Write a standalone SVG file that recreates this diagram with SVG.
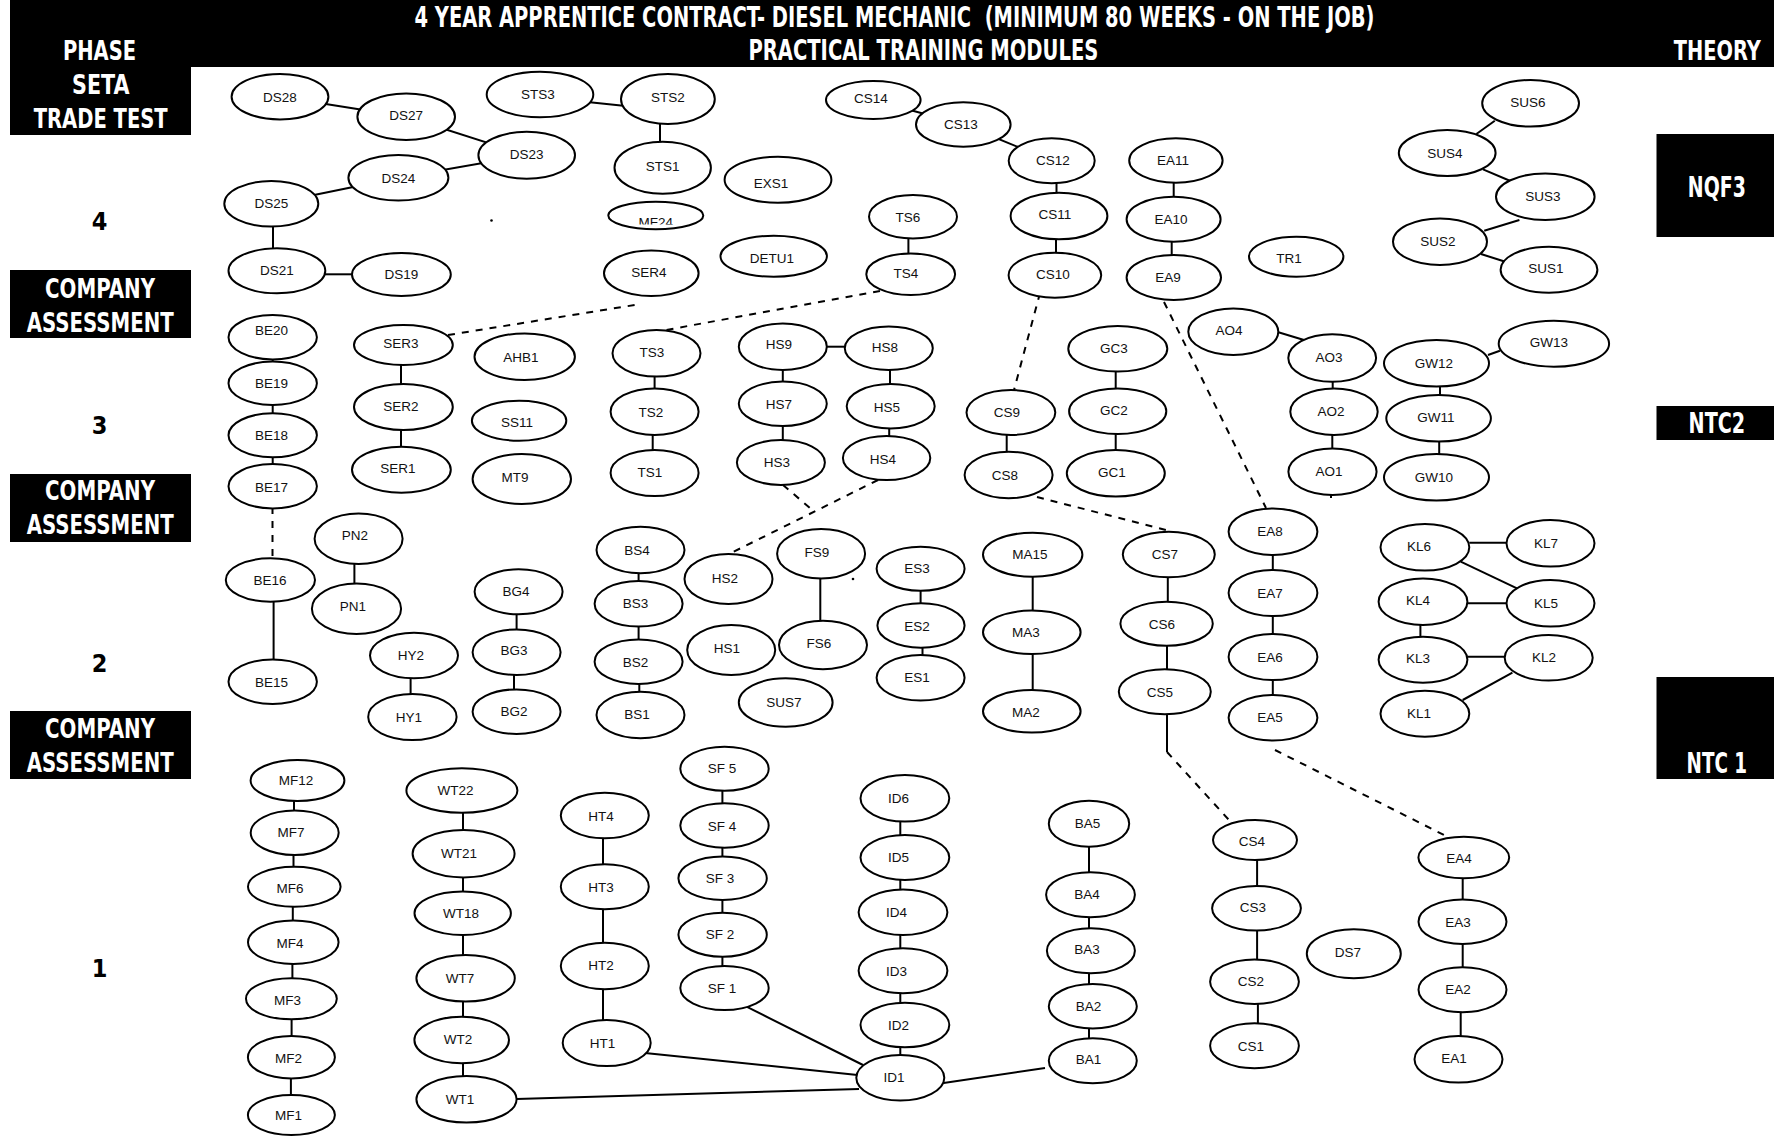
<svg xmlns="http://www.w3.org/2000/svg" width="1774" height="1140" viewBox="0 0 1774 1140">
<style>
.bg{fill:#fff}
.blk{fill:#000}
.hd{font-family:"Liberation Sans Narrow","Arial Narrow","DejaVu Sans Condensed",sans-serif;font-weight:bold;fill:#fff;font-size:26px}
.hdl{font-size:28px}
.hds{font-size:23px}
.num{font-family:"Liberation Sans Narrow","Arial Narrow","DejaVu Sans Condensed",sans-serif;font-weight:bold;fill:#000;font-size:25px;text-anchor:middle}
.node ellipse{fill:#fff;stroke:#000;stroke-width:2}
.node text{font-family:"Liberation Sans",Arial,sans-serif;font-size:13.5px;text-anchor:middle;fill:#111}
#connectors line{stroke:#000;stroke-width:2;fill:none}
#connectors .d{stroke-dasharray:7 7}
</style>
<defs>
<clipPath id="mfclip"><rect x="600" y="200" width="110" height="24.5"/></clipPath>
</defs>
<rect class="bg" x="0" y="0" width="1774" height="1140"/>
<g id="header">
<rect class="blk" x="10" y="0" width="1764" height="67"/>
<rect class="blk" x="10" y="0" width="181" height="135"/>
<rect class="blk" x="10" y="270" width="181" height="68"/>
<rect class="blk" x="10" y="474" width="181" height="68"/>
<rect class="blk" x="10" y="711" width="181" height="68"/>
<rect class="blk" x="1656.5" y="134" width="117.5" height="103"/>
<rect class="blk" x="1656.5" y="406" width="117.5" height="34"/>
<rect class="blk" x="1656.5" y="677" width="117.5" height="102"/>
<text class="hd hdl" x="414.5" y="27" textLength="960" lengthAdjust="spacingAndGlyphs" xml:space="preserve">4 YEAR APPRENTICE CONTRACT- DIESEL MECHANIC  (MINIMUM 80 WEEKS - ON THE JOB)</text>
<text class="hd hdl" x="748.4" y="60" textLength="350" lengthAdjust="spacingAndGlyphs">PRACTICAL TRAINING MODULES</text>
<text class="hd hds" transform="translate(1673.7,60) scale(1,1.13)" x="0" y="0" textLength="87" lengthAdjust="spacingAndGlyphs">THEORY</text>
<text class="hd" x="63" y="60" textLength="73" lengthAdjust="spacingAndGlyphs">PHASE</text>
<text class="hd" x="72" y="94" textLength="57.4" lengthAdjust="spacingAndGlyphs">SETA</text>
<text class="hd" x="33.7" y="127.7" textLength="134" lengthAdjust="spacingAndGlyphs">TRADE TEST</text>
<text class="hd" x="45" y="297.7" textLength="110" lengthAdjust="spacingAndGlyphs">COMPANY</text>
<text class="hd" x="26.8" y="331.7" textLength="147" lengthAdjust="spacingAndGlyphs">ASSESSMENT</text>
<text class="hd" x="45" y="500" textLength="110" lengthAdjust="spacingAndGlyphs">COMPANY</text>
<text class="hd" x="26.8" y="534" textLength="147" lengthAdjust="spacingAndGlyphs">ASSESSMENT</text>
<text class="hd" x="45" y="738" textLength="110" lengthAdjust="spacingAndGlyphs">COMPANY</text>
<text class="hd" x="26.8" y="772" textLength="147" lengthAdjust="spacingAndGlyphs">ASSESSMENT</text>
<text class="hd hdl" x="1687.8" y="196.7" textLength="58" lengthAdjust="spacingAndGlyphs">NQF3</text>
<text class="hd hdl" x="1688.6" y="433" textLength="56.6" lengthAdjust="spacingAndGlyphs">NTC2</text>
<text class="hd hdl" x="1686.6" y="773" textLength="60.4" lengthAdjust="spacingAndGlyphs" xml:space="preserve">NTC 1</text>
<text class="num" x="99.5" y="230">4</text>
<text class="num" x="99.5" y="434">3</text>
<text class="num" x="99.5" y="672">2</text>
<text class="num" x="99.5" y="977">1</text>
</g>
<g id="connectors">
<line x1="280" y1="96.7" x2="406.2" y2="116.7"/>
<line x1="406.2" y1="116.7" x2="526.7" y2="155.3"/>
<line x1="526.7" y1="155.3" x2="398.4" y2="177.8"/>
<line x1="398.4" y1="177.8" x2="271.3" y2="203.8"/>
<line x1="273" y1="226" x2="273" y2="248.5"/>
<line x1="325" y1="274.3" x2="352.5" y2="274.3"/>
<line x1="585" y1="101.7" x2="623.3" y2="105.7"/>
<line x1="585" y1="99.5" x2="590" y2="102.5"/>
<line x1="660" y1="123.5" x2="660" y2="142"/>
<line x1="908.4" y1="238" x2="908.4" y2="253.5"/>
<line x1="873.3" y1="100" x2="963.3" y2="124.5"/>
<line x1="963.3" y1="124.5" x2="1051.7" y2="160.8"/>
<line x1="1056.5" y1="183" x2="1056.5" y2="193"/>
<line x1="1056" y1="239" x2="1056" y2="253"/>
<line x1="1173.7" y1="182.7" x2="1173.7" y2="196.7"/>
<line x1="1171.7" y1="241.7" x2="1171.7" y2="255"/>
<line x1="1494.8" y1="120.7" x2="1476.4" y2="134"/>
<line x1="1483" y1="169.3" x2="1510.4" y2="181"/>
<line x1="1519.4" y1="220" x2="1484.2" y2="230.7"/>
<line x1="1481" y1="254" x2="1505.3" y2="261.7"/>
<line x1="272.7" y1="359" x2="272.7" y2="362"/>
<line x1="272.7" y1="404.5" x2="272.7" y2="413.5"/>
<line x1="272.7" y1="457" x2="272.7" y2="464.5"/>
<line x1="401" y1="365" x2="401" y2="384"/>
<line x1="401" y1="430" x2="401" y2="446.7"/>
<line x1="654.6" y1="376.7" x2="654.6" y2="388.3"/>
<line x1="652.7" y1="435" x2="652.7" y2="450"/>
<line x1="826.8" y1="346.7" x2="844.8" y2="346.7"/>
<line x1="782.8" y1="370" x2="782.8" y2="381.7"/>
<line x1="890" y1="370" x2="890" y2="384"/>
<line x1="782.8" y1="426" x2="782.8" y2="440"/>
<line x1="889.2" y1="428.3" x2="889.2" y2="436"/>
<line x1="1006.7" y1="435" x2="1006.7" y2="451.7"/>
<line x1="1115.7" y1="371.7" x2="1115.7" y2="388.3"/>
<line x1="1115.7" y1="434" x2="1115.7" y2="450"/>
<line x1="1276.7" y1="331.7" x2="1304" y2="340"/>
<line x1="1332.7" y1="381.7" x2="1332.7" y2="388.3"/>
<line x1="1332.3" y1="435" x2="1332.3" y2="448.3"/>
<line x1="1331" y1="495" x2="1331" y2="498"/>
<line x1="1488" y1="355" x2="1499.9" y2="350.7"/>
<line x1="1440" y1="386.7" x2="1440" y2="395"/>
<line x1="1439.2" y1="441.7" x2="1439.2" y2="454"/>
<line x1="273.6" y1="601.7" x2="273.6" y2="659.3"/>
<line x1="354.4" y1="564" x2="354.4" y2="583.3"/>
<line x1="410.6" y1="678.3" x2="410.6" y2="694"/>
<line x1="516.6" y1="614.3" x2="516.6" y2="629.3"/>
<line x1="514" y1="675" x2="514" y2="689.3"/>
<line x1="638.6" y1="573.3" x2="638.6" y2="581"/>
<line x1="638.6" y1="626.7" x2="638.6" y2="639.3"/>
<line x1="639.3" y1="684" x2="639.3" y2="691.7"/>
<line x1="820.3" y1="578.3" x2="820.3" y2="620.7"/>
<line x1="920.6" y1="590.7" x2="920.6" y2="603.3"/>
<line x1="922.5" y1="647.7" x2="922.5" y2="655"/>
<line x1="1032.7" y1="576.7" x2="1032.7" y2="610.7"/>
<line x1="1032.7" y1="654" x2="1032.7" y2="690"/>
<line x1="1167.8" y1="577.3" x2="1167.8" y2="601.7"/>
<line x1="1167" y1="645.7" x2="1167" y2="669.3"/>
<line x1="1272.8" y1="555" x2="1272.8" y2="570"/>
<line x1="1272.8" y1="616" x2="1272.8" y2="634"/>
<line x1="1272.8" y1="680" x2="1272.8" y2="695"/>
<line x1="1469.3" y1="542.7" x2="1506.5" y2="542.7"/>
<line x1="1460.7" y1="561.7" x2="1517" y2="588.3"/>
<line x1="1467.4" y1="603.3" x2="1506.5" y2="603.3"/>
<line x1="1420.4" y1="625" x2="1420.4" y2="636.7"/>
<line x1="1467.4" y1="656.7" x2="1504.6" y2="656.7"/>
<line x1="1512.4" y1="672.7" x2="1462.7" y2="700"/>
<line x1="294" y1="801" x2="294" y2="810.7"/>
<line x1="293.5" y1="855" x2="293.5" y2="866.7"/>
<line x1="292.8" y1="906.7" x2="292.8" y2="920.7"/>
<line x1="292.4" y1="964" x2="292.4" y2="978.3"/>
<line x1="291.6" y1="1019.3" x2="291.6" y2="1036"/>
<line x1="290.9" y1="1078.3" x2="290.9" y2="1095"/>
<line x1="463" y1="812.7" x2="463" y2="830"/>
<line x1="463" y1="877.3" x2="463" y2="891.7"/>
<line x1="463" y1="935" x2="463" y2="955"/>
<line x1="463" y1="1001.7" x2="463" y2="1016.7"/>
<line x1="463" y1="1063.3" x2="463" y2="1076"/>
<line x1="603" y1="838.3" x2="603" y2="864.3"/>
<line x1="603" y1="909.3" x2="603" y2="942.7"/>
<line x1="603" y1="989.3" x2="603" y2="1020"/>
<line x1="722.4" y1="790.7" x2="722.4" y2="803.3"/>
<line x1="722.4" y1="847.7" x2="722.4" y2="856.7"/>
<line x1="722.4" y1="900" x2="722.4" y2="912.7"/>
<line x1="722.4" y1="956.7" x2="722.4" y2="966"/>
<line x1="900.3" y1="821.7" x2="900.3" y2="835"/>
<line x1="900.3" y1="880" x2="900.3" y2="889.3"/>
<line x1="900.3" y1="935" x2="900.3" y2="948.3"/>
<line x1="900.3" y1="993.3" x2="900.3" y2="1002.7"/>
<line x1="900.3" y1="1047.3" x2="900.3" y2="1055"/>
<line x1="1089" y1="846.7" x2="1089" y2="872.3"/>
<line x1="1089" y1="917.3" x2="1089" y2="928.3"/>
<line x1="1089" y1="973.3" x2="1089" y2="984"/>
<line x1="1089" y1="1028.3" x2="1089" y2="1038.3"/>
<line x1="1257.1" y1="860" x2="1257.1" y2="886"/>
<line x1="1257.1" y1="930.7" x2="1257.1" y2="959.3"/>
<line x1="1257.9" y1="1004" x2="1257.9" y2="1023.3"/>
<line x1="1462.7" y1="876" x2="1462.7" y2="899.3"/>
<line x1="1462.7" y1="944" x2="1462.7" y2="967.3"/>
<line x1="1460.7" y1="1012.3" x2="1460.7" y2="1036"/>
<line x1="516.6" y1="1099" x2="859" y2="1089"/>
<line x1="645" y1="1053" x2="857.5" y2="1075"/>
<line x1="746.5" y1="1006.7" x2="863" y2="1065"/>
<line x1="943.6" y1="1083" x2="1045" y2="1068"/>
<line x1="1167" y1="714" x2="1167" y2="752"/>
<line class="d" x1="448" y1="335" x2="641" y2="304"/>
<line class="d" x1="880" y1="291" x2="666" y2="330"/>
<line class="d" x1="1040" y1="293" x2="1014" y2="390"/>
<line class="d" x1="1164" y1="302" x2="1266" y2="508"/>
<line class="d" x1="783" y1="485" x2="810" y2="508"/>
<line class="d" x1="878" y1="480" x2="731" y2="553"/>
<line class="d" x1="1037" y1="497" x2="1170" y2="531"/>
<line class="d" x1="1167" y1="752" x2="1229" y2="820"/>
<line class="d" x1="1275" y1="750" x2="1444" y2="835"/>
<line class="d" x1="272.5" y1="507" x2="272.5" y2="557"/>
</g>
<g id="specks">
<circle cx="491.5" cy="220.5" r="1.3" fill="#000"/>
<circle cx="853" cy="579" r="1.3" fill="#000"/>
</g>
<g id="nodes">
<g class="node" id="DS28"><ellipse cx="280" cy="96.7" rx="48.4" ry="22.7"/><text x="280" y="101.5">DS28</text></g>
<g class="node" id="DS27"><ellipse cx="406.2" cy="116.7" rx="48.8" ry="23.3"/><text x="406.2" y="119.8">DS27</text></g>
<g class="node" id="DS23"><ellipse cx="526.7" cy="155.3" rx="48.3" ry="23.5"/><text x="526.7" y="159.1">DS23</text></g>
<g class="node" id="DS24"><ellipse cx="398.4" cy="177.8" rx="50" ry="22.8"/><text x="398.4" y="182.5">DS24</text></g>
<g class="node" id="DS25"><ellipse cx="271.3" cy="203.8" rx="47" ry="22.8"/><text x="271.3" y="208.1">DS25</text></g>
<g class="node" id="DS21"><ellipse cx="276.9" cy="270.8" rx="48.4" ry="22.5"/><text x="276.9" y="274.8">DS21</text></g>
<g class="node" id="DS19"><ellipse cx="401.4" cy="274.5" rx="49.4" ry="21.5"/><text x="401.4" y="278.8">DS19</text></g>
<g class="node" id="STS3"><ellipse cx="540" cy="94.5" rx="53.3" ry="22.8"/><text x="538" y="99.1">STS3</text></g>
<g class="node" id="STS2"><ellipse cx="667.9" cy="99" rx="46.9" ry="25"/><text x="667.9" y="102.1">STS2</text></g>
<g class="node" id="STS1"><ellipse cx="662.7" cy="167.8" rx="48.2" ry="26"/><text x="662.7" y="170.5">STS1</text></g>
<g class="node" id="EXS1"><ellipse cx="778" cy="179.7" rx="53.4" ry="23"/><text x="771" y="187.5">EXS1</text></g>
<g class="node" id="MF24"><ellipse cx="655.8" cy="215.5" rx="47.5" ry="13.8"/><text x="655.8" y="226.8" clip-path="url(#mfclip)">MF24</text></g>
<g class="node" id="DETU1"><ellipse cx="773.7" cy="256.2" rx="53.2" ry="20.5"/><text x="772" y="263.1">DETU1</text></g>
<g class="node" id="SER4"><ellipse cx="651.3" cy="273.3" rx="47.3" ry="22.7"/><text x="649" y="277.1">SER4</text></g>
<g class="node" id="TS6"><ellipse cx="913" cy="216.7" rx="44" ry="21.7"/><text x="908" y="221.5">TS6</text></g>
<g class="node" id="TS4"><ellipse cx="910.7" cy="274.2" rx="44.4" ry="20.8"/><text x="906" y="278.1">TS4</text></g>
<g class="node" id="CS14"><ellipse cx="873.3" cy="100" rx="47.3" ry="19"/><text x="871" y="103.1">CS14</text></g>
<g class="node" id="CS13"><ellipse cx="963.3" cy="124.5" rx="47.3" ry="22.2"/><text x="961" y="129.1">CS13</text></g>
<g class="node" id="CS12"><ellipse cx="1051.7" cy="160.8" rx="43" ry="22.5"/><text x="1053" y="164.8">CS12</text></g>
<g class="node" id="CS11"><ellipse cx="1059" cy="216" rx="48.4" ry="23.3"/><text x="1055" y="219.1">CS11</text></g>
<g class="node" id="CS10"><ellipse cx="1054.9" cy="275.2" rx="46.3" ry="22.5"/><text x="1053" y="279.1">CS10</text></g>
<g class="node" id="EA11"><ellipse cx="1175.9" cy="160.5" rx="46.7" ry="22.2"/><text x="1173" y="164.8">EA11</text></g>
<g class="node" id="EA10"><ellipse cx="1173.6" cy="219.2" rx="47" ry="22.5"/><text x="1171" y="223.8">EA10</text></g>
<g class="node" id="EA9"><ellipse cx="1173.8" cy="277.5" rx="47.2" ry="22.5"/><text x="1168" y="281.5">EA9</text></g>
<g class="node" id="TR1"><ellipse cx="1296.2" cy="256.7" rx="47.2" ry="20"/><text x="1289" y="263.1">TR1</text></g>
<g class="node" id="SUS6"><ellipse cx="1530.6" cy="103.3" rx="48.4" ry="23.3"/><text x="1528" y="107.1">SUS6</text></g>
<g class="node" id="SUS4"><ellipse cx="1447.2" cy="153" rx="48.4" ry="23"/><text x="1445" y="158.1">SUS4</text></g>
<g class="node" id="SUS3"><ellipse cx="1545.3" cy="196.7" rx="49.3" ry="23.3"/><text x="1543" y="200.8">SUS3</text></g>
<g class="node" id="SUS2"><ellipse cx="1440" cy="241.7" rx="47" ry="23.3"/><text x="1438" y="245.8">SUS2</text></g>
<g class="node" id="SUS1"><ellipse cx="1549" cy="269.7" rx="48.4" ry="23"/><text x="1546" y="273.1">SUS1</text></g>
<g class="node" id="BE20"><ellipse cx="272.7" cy="337.2" rx="44.2" ry="22.2"/><text x="271.5" y="334.8">BE20</text></g>
<g class="node" id="BE19"><ellipse cx="272.7" cy="383.3" rx="44.2" ry="21.7"/><text x="271.5" y="387.5">BE19</text></g>
<g class="node" id="BE18"><ellipse cx="272.7" cy="435.3" rx="44.2" ry="22"/><text x="271.5" y="439.8">BE18</text></g>
<g class="node" id="BE17"><ellipse cx="272.7" cy="486.2" rx="44.2" ry="22.2"/><text x="271.5" y="491.5">BE17</text></g>
<g class="node" id="SER3"><ellipse cx="403.4" cy="345" rx="49.4" ry="20"/><text x="401" y="348.1">SER3</text></g>
<g class="node" id="SER2"><ellipse cx="403.4" cy="407" rx="49.4" ry="23"/><text x="401" y="410.8">SER2</text></g>
<g class="node" id="SER1"><ellipse cx="401.4" cy="469.7" rx="49.4" ry="23"/><text x="398" y="473.1">SER1</text></g>
<g class="node" id="AHB1"><ellipse cx="524.7" cy="356.7" rx="50.2" ry="23.3"/><text x="521" y="362.1">AHB1</text></g>
<g class="node" id="SS11"><ellipse cx="519.1" cy="420.7" rx="47.2" ry="20"/><text x="517" y="427.1">SS11</text></g>
<g class="node" id="MT9"><ellipse cx="521.8" cy="479" rx="49.2" ry="25"/><text x="515" y="482.1">MT9</text></g>
<g class="node" id="TS3"><ellipse cx="656.5" cy="353.3" rx="44" ry="23.3"/><text x="652" y="356.5">TS3</text></g>
<g class="node" id="TS2"><ellipse cx="654.6" cy="411.7" rx="44" ry="23.3"/><text x="651" y="417.1">TS2</text></g>
<g class="node" id="TS1"><ellipse cx="654.6" cy="473" rx="44" ry="23"/><text x="650" y="477.1">TS1</text></g>
<g class="node" id="HS9"><ellipse cx="782.8" cy="346.7" rx="44" ry="23.3"/><text x="779" y="349.1">HS9</text></g>
<g class="node" id="HS8"><ellipse cx="888.8" cy="348.3" rx="44" ry="21.7"/><text x="885" y="351.5">HS8</text></g>
<g class="node" id="HS7"><ellipse cx="782.8" cy="403.8" rx="44" ry="22.2"/><text x="779" y="409.1">HS7</text></g>
<g class="node" id="HS5"><ellipse cx="890.7" cy="406.2" rx="44" ry="22.2"/><text x="887" y="411.5">HS5</text></g>
<g class="node" id="HS3"><ellipse cx="780.9" cy="462.5" rx="44" ry="22.5"/><text x="777" y="467.1">HS3</text></g>
<g class="node" id="HS4"><ellipse cx="886.6" cy="458" rx="43.7" ry="22"/><text x="883" y="463.5">HS4</text></g>
<g class="node" id="CS9"><ellipse cx="1010.9" cy="412.5" rx="44.4" ry="22.5"/><text x="1007" y="417.1">CS9</text></g>
<g class="node" id="CS8"><ellipse cx="1008.6" cy="475" rx="44" ry="23.3"/><text x="1005" y="479.8">CS8</text></g>
<g class="node" id="GC3"><ellipse cx="1117.8" cy="348.8" rx="49.5" ry="22.8"/><text x="1114" y="353.1">GC3</text></g>
<g class="node" id="GC2"><ellipse cx="1117.7" cy="411.2" rx="48.6" ry="22.8"/><text x="1114" y="414.8">GC2</text></g>
<g class="node" id="GC1"><ellipse cx="1115.8" cy="473.3" rx="49" ry="23.3"/><text x="1112" y="477.1">GC1</text></g>
<g class="node" id="AO4"><ellipse cx="1233.3" cy="331.7" rx="45" ry="23.3"/><text x="1229" y="334.8">AO4</text></g>
<g class="node" id="AO3"><ellipse cx="1332.2" cy="358" rx="43.9" ry="23.7"/><text x="1329" y="361.5">AO3</text></g>
<g class="node" id="AO2"><ellipse cx="1334" cy="411.7" rx="43.7" ry="23.3"/><text x="1331" y="415.5">AO2</text></g>
<g class="node" id="AO1"><ellipse cx="1332.5" cy="471.7" rx="44.1" ry="23.3"/><text x="1329" y="475.5">AO1</text></g>
<g class="node" id="GW12"><ellipse cx="1436.5" cy="363.3" rx="52.5" ry="23.3"/><text x="1434" y="367.5">GW12</text></g>
<g class="node" id="GW13"><ellipse cx="1553.9" cy="343.7" rx="55.2" ry="23"/><text x="1549" y="346.5">GW13</text></g>
<g class="node" id="GW11"><ellipse cx="1438.6" cy="418.3" rx="52.3" ry="23.3"/><text x="1436" y="422.1">GW11</text></g>
<g class="node" id="GW10"><ellipse cx="1436.5" cy="477.3" rx="52.5" ry="23.3"/><text x="1434" y="481.5">GW10</text></g>
<g class="node" id="BE16"><ellipse cx="270.4" cy="580" rx="44.6" ry="21.7"/><text x="270" y="584.8">BE16</text></g>
<g class="node" id="BE15"><ellipse cx="272.7" cy="681.7" rx="44.2" ry="22.3"/><text x="271.5" y="686.5">BE15</text></g>
<g class="node" id="PN2"><ellipse cx="358.6" cy="538.7" rx="44" ry="25.3"/><text x="355" y="539.8">PN2</text></g>
<g class="node" id="PN1"><ellipse cx="356.5" cy="608.7" rx="44.6" ry="25.3"/><text x="353" y="610.5">PN1</text></g>
<g class="node" id="HY2"><ellipse cx="414" cy="655.5" rx="44" ry="22.8"/><text x="411" y="659.8">HY2</text></g>
<g class="node" id="HY1"><ellipse cx="412.4" cy="717" rx="44.2" ry="23"/><text x="409" y="721.5">HY1</text></g>
<g class="node" id="BG4"><ellipse cx="518.6" cy="591.8" rx="44" ry="22.5"/><text x="516" y="595.8">BG4</text></g>
<g class="node" id="BG3"><ellipse cx="516.6" cy="652.2" rx="44" ry="22.8"/><text x="514" y="654.8">BG3</text></g>
<g class="node" id="BG2"><ellipse cx="516.6" cy="711.7" rx="44" ry="22.3"/><text x="514" y="715.8">BG2</text></g>
<g class="node" id="BS4"><ellipse cx="640.5" cy="550" rx="44" ry="23.3"/><text x="637" y="554.8">BS4</text></g>
<g class="node" id="BS3"><ellipse cx="638.6" cy="603.8" rx="44" ry="22.8"/><text x="635.5" y="607.5">BS3</text></g>
<g class="node" id="BS2"><ellipse cx="638.6" cy="661.7" rx="44" ry="22.3"/><text x="635.5" y="666.5">BS2</text></g>
<g class="node" id="BS1"><ellipse cx="640.5" cy="715" rx="44" ry="23.3"/><text x="637" y="718.8">BS1</text></g>
<g class="node" id="HS2"><ellipse cx="728.5" cy="579" rx="44" ry="25"/><text x="725" y="582.5">HS2</text></g>
<g class="node" id="HS1"><ellipse cx="731.2" cy="650" rx="44" ry="25"/><text x="727" y="652.5">HS1</text></g>
<g class="node" id="FS9"><ellipse cx="821.1" cy="553.7" rx="44" ry="24.7"/><text x="817" y="556.5">FS9</text></g>
<g class="node" id="FS6"><ellipse cx="823" cy="645" rx="44" ry="24.3"/><text x="819" y="648.1">FS6</text></g>
<g class="node" id="SUS7"><ellipse cx="785.7" cy="702.5" rx="46.9" ry="24.2"/><text x="784" y="706.5">SUS7</text></g>
<g class="node" id="ES3"><ellipse cx="920.6" cy="568.7" rx="44" ry="22"/><text x="917" y="573.1">ES3</text></g>
<g class="node" id="ES2"><ellipse cx="921" cy="625.5" rx="43.6" ry="22.2"/><text x="917" y="630.5">ES2</text></g>
<g class="node" id="ES1"><ellipse cx="920.6" cy="677.8" rx="44" ry="22.8"/><text x="917" y="681.5">ES1</text></g>
<g class="node" id="MA15"><ellipse cx="1032.7" cy="554.7" rx="49.7" ry="22"/><text x="1030" y="558.8">MA15</text></g>
<g class="node" id="MA3"><ellipse cx="1031.8" cy="632.3" rx="48.8" ry="21.7"/><text x="1026" y="637.1">MA3</text></g>
<g class="node" id="MA2"><ellipse cx="1031.8" cy="711.3" rx="48.8" ry="21.3"/><text x="1026" y="716.5">MA2</text></g>
<g class="node" id="CS7"><ellipse cx="1168.8" cy="554.5" rx="46" ry="22.8"/><text x="1165" y="558.8">CS7</text></g>
<g class="node" id="CS6"><ellipse cx="1166.6" cy="623.7" rx="46.2" ry="22"/><text x="1162" y="629.1">CS6</text></g>
<g class="node" id="CS5"><ellipse cx="1164.8" cy="691.8" rx="46" ry="22.5"/><text x="1160" y="696.5">CS5</text></g>
<g class="node" id="EA8"><ellipse cx="1273" cy="531.7" rx="44.4" ry="23.3"/><text x="1270" y="535.5">EA8</text></g>
<g class="node" id="EA7"><ellipse cx="1273" cy="593" rx="44.4" ry="23"/><text x="1270" y="597.5">EA7</text></g>
<g class="node" id="EA6"><ellipse cx="1273" cy="657" rx="44.4" ry="23"/><text x="1270" y="661.5">EA6</text></g>
<g class="node" id="EA5"><ellipse cx="1273" cy="717.8" rx="44.4" ry="22.8"/><text x="1270" y="722.1">EA5</text></g>
<g class="node" id="KL6"><ellipse cx="1424.9" cy="547.3" rx="44.4" ry="23.3"/><text x="1419" y="550.8">KL6</text></g>
<g class="node" id="KL7"><ellipse cx="1550.5" cy="543.3" rx="44" ry="23.3"/><text x="1546" y="548.1">KL7</text></g>
<g class="node" id="KL4"><ellipse cx="1423" cy="601.7" rx="44.4" ry="23.3"/><text x="1418" y="604.8">KL4</text></g>
<g class="node" id="KL5"><ellipse cx="1550.5" cy="603.3" rx="44" ry="23.3"/><text x="1546" y="607.5">KL5</text></g>
<g class="node" id="KL3"><ellipse cx="1423" cy="659.7" rx="44.4" ry="23"/><text x="1418" y="662.5">KL3</text></g>
<g class="node" id="KL2"><ellipse cx="1548.7" cy="657.8" rx="44" ry="22.8"/><text x="1544" y="661.5">KL2</text></g>
<g class="node" id="KL1"><ellipse cx="1424.9" cy="713.7" rx="44.4" ry="23"/><text x="1419" y="718.1">KL1</text></g>
<g class="node" id="MF12"><ellipse cx="297.5" cy="780.5" rx="46.9" ry="20.5"/><text x="296" y="784.8">MF12</text></g>
<g class="node" id="MF7"><ellipse cx="294.7" cy="832.8" rx="44" ry="22.2"/><text x="291" y="836.5">MF7</text></g>
<g class="node" id="MF6"><ellipse cx="294.3" cy="886.7" rx="46.3" ry="20"/><text x="290" y="892.5">MF6</text></g>
<g class="node" id="MF4"><ellipse cx="293.3" cy="942.3" rx="45.3" ry="21.7"/><text x="290" y="947.5">MF4</text></g>
<g class="node" id="MF3"><ellipse cx="291.4" cy="998.8" rx="45.4" ry="20.5"/><text x="287.5" y="1004.8">MF3</text></g>
<g class="node" id="MF2"><ellipse cx="291.4" cy="1057.2" rx="43.5" ry="21.2"/><text x="288.5" y="1063.1">MF2</text></g>
<g class="node" id="MF1"><ellipse cx="291.4" cy="1115" rx="43.5" ry="20"/><text x="288.5" y="1119.8">MF1</text></g>
<g class="node" id="WT22"><ellipse cx="461.9" cy="790.5" rx="55.5" ry="22.2"/><text x="455.5" y="794.8">WT22</text></g>
<g class="node" id="WT21"><ellipse cx="463.6" cy="853.7" rx="51" ry="23.7"/><text x="459" y="857.5">WT21</text></g>
<g class="node" id="WT18"><ellipse cx="462.7" cy="913.3" rx="48.2" ry="21.7"/><text x="461" y="918.1">WT18</text></g>
<g class="node" id="WT7"><ellipse cx="465.6" cy="978.3" rx="49.2" ry="23.3"/><text x="460" y="983.1">WT7</text></g>
<g class="node" id="WT2"><ellipse cx="461.7" cy="1040" rx="47.3" ry="23.3"/><text x="458" y="1044.1">WT2</text></g>
<g class="node" id="WT1"><ellipse cx="466.5" cy="1099.3" rx="50.1" ry="23.3"/><text x="460" y="1104.1">WT1</text></g>
<g class="node" id="HT4"><ellipse cx="604.8" cy="815.5" rx="44" ry="22.8"/><text x="601" y="820.5">HT4</text></g>
<g class="node" id="HT3"><ellipse cx="604.8" cy="886.8" rx="44" ry="22.5"/><text x="601" y="891.5">HT3</text></g>
<g class="node" id="HT2"><ellipse cx="604.8" cy="966" rx="44" ry="23.3"/><text x="601" y="969.8">HT2</text></g>
<g class="node" id="HT1"><ellipse cx="606.7" cy="1043" rx="44" ry="23"/><text x="602.5" y="1047.5">HT1</text></g>
<g class="node" id="SF5"><ellipse cx="724.5" cy="768.7" rx="44.2" ry="22"/><text x="722" y="773.1">SF 5</text></g>
<g class="node" id="SF4"><ellipse cx="724.5" cy="825.5" rx="44.2" ry="22.2"/><text x="722" y="830.5">SF 4</text></g>
<g class="node" id="SF3"><ellipse cx="722.6" cy="878.3" rx="44.2" ry="21.7"/><text x="720" y="883.1">SF 3</text></g>
<g class="node" id="SF2"><ellipse cx="722.6" cy="934.7" rx="44.2" ry="22"/><text x="720" y="938.8">SF 2</text></g>
<g class="node" id="SF1"><ellipse cx="724.5" cy="988" rx="44.2" ry="22"/><text x="722" y="992.5">SF 1</text></g>
<g class="node" id="ID6"><ellipse cx="904.9" cy="798.3" rx="44.4" ry="23.3"/><text x="898.5" y="802.5">ID6</text></g>
<g class="node" id="ID5"><ellipse cx="904.9" cy="857.5" rx="44.4" ry="22.5"/><text x="898.5" y="861.5">ID5</text></g>
<g class="node" id="ID4"><ellipse cx="903" cy="912.2" rx="44.4" ry="22.8"/><text x="896.5" y="916.5">ID4</text></g>
<g class="node" id="ID3"><ellipse cx="903" cy="970.8" rx="44.4" ry="22.5"/><text x="896.5" y="975.5">ID3</text></g>
<g class="node" id="ID2"><ellipse cx="904.9" cy="1025" rx="44.4" ry="22.3"/><text x="898.5" y="1029.8">ID2</text></g>
<g class="node" id="ID1"><ellipse cx="900.3" cy="1077.8" rx="44" ry="22.8"/><text x="894" y="1082.1">ID1</text></g>
<g class="node" id="BA5"><ellipse cx="1089" cy="823.7" rx="40.2" ry="23"/><text x="1087.5" y="828.1">BA5</text></g>
<g class="node" id="BA4"><ellipse cx="1090.5" cy="894.8" rx="44.4" ry="22.5"/><text x="1087" y="899.1">BA4</text></g>
<g class="node" id="BA3"><ellipse cx="1090.9" cy="950.8" rx="44" ry="22.5"/><text x="1087" y="954.1">BA3</text></g>
<g class="node" id="BA2"><ellipse cx="1092.8" cy="1006.2" rx="44" ry="22.2"/><text x="1088.5" y="1010.5">BA2</text></g>
<g class="node" id="BA1"><ellipse cx="1092.8" cy="1060.8" rx="44" ry="22.5"/><text x="1088.5" y="1064.1">BA1</text></g>
<g class="node" id="CS4"><ellipse cx="1255" cy="840" rx="42" ry="20"/><text x="1252" y="845.5">CS4</text></g>
<g class="node" id="CS3"><ellipse cx="1256.5" cy="908.3" rx="44.4" ry="22.3"/><text x="1253" y="911.5">CS3</text></g>
<g class="node" id="CS2"><ellipse cx="1254.5" cy="981.7" rx="44.4" ry="22.3"/><text x="1251" y="985.5">CS2</text></g>
<g class="node" id="CS1"><ellipse cx="1254.5" cy="1045.8" rx="44.4" ry="22.5"/><text x="1251" y="1050.5">CS1</text></g>
<g class="node" id="DS7"><ellipse cx="1353.8" cy="953.8" rx="47" ry="24.5"/><text x="1348" y="956.5">DS7</text></g>
<g class="node" id="EA4"><ellipse cx="1463.8" cy="857.5" rx="45.4" ry="20.8"/><text x="1459" y="863.1">EA4</text></g>
<g class="node" id="EA3"><ellipse cx="1462.5" cy="921.7" rx="44" ry="22.3"/><text x="1458" y="926.5">EA3</text></g>
<g class="node" id="EA2"><ellipse cx="1462.5" cy="989.8" rx="44" ry="22.5"/><text x="1458" y="994.1">EA2</text></g>
<g class="node" id="EA1"><ellipse cx="1458.5" cy="1059.3" rx="44" ry="23.3"/><text x="1454" y="1063.1">EA1</text></g>
</g>
</svg>
